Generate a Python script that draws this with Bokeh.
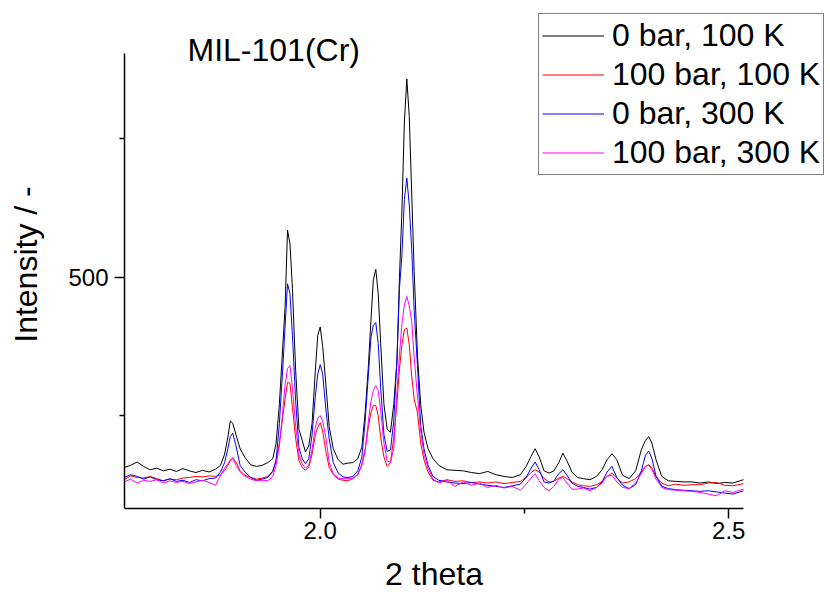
import math
from bokeh.plotting import figure
from bokeh.models import Range1d, FixedTicker, Legend, LegendItem, Label, PrintfTickFormatter
from bokeh.embed import file_html
from bokeh.resources import INLINE

two_theta = [
    1.760, 1.768, 1.776, 1.784, 1.792, 1.800, 1.808, 1.816, 1.824, 1.832, 1.840, 1.848, 1.856, 1.864, 1.872,
    1.878, 1.883, 1.887, 1.890, 1.893, 1.897, 1.902, 1.908, 1.915, 1.922, 1.929, 1.936, 1.942,
    1.946, 1.950, 1.954, 1.957, 1.960, 1.963, 1.966, 1.970, 1.974, 1.978, 1.982, 1.986, 1.990, 1.994, 1.997,
    2.000, 2.003, 2.007, 2.011, 2.016, 2.022, 2.028, 2.034, 2.040, 2.046, 2.051, 2.055, 2.059, 2.062, 2.065,
    2.068, 2.071, 2.074, 2.078, 2.082, 2.086, 2.090, 2.094, 2.097, 2.100, 2.103, 2.106, 2.109, 2.112, 2.115,
    2.119, 2.123, 2.127, 2.132, 2.138,
    2.145, 2.155, 2.165, 2.175, 2.185, 2.195, 2.205, 2.215, 2.225, 2.235, 2.245,
    2.252, 2.258, 2.263, 2.268, 2.274, 2.280, 2.286, 2.292, 2.297, 2.302, 2.308, 2.315, 2.322, 2.330, 2.338,
    2.345, 2.351, 2.357, 2.363, 2.370, 2.378, 2.386, 2.393, 2.398, 2.402, 2.406, 2.411, 2.418, 2.426,
    2.435, 2.445, 2.455, 2.465, 2.475, 2.485, 2.495, 2.505, 2.518,
]

i_0bar_100K = [
    156, 160, 166, 158, 152, 155, 150, 153, 149, 154, 150, 147, 151, 148, 153,
    160, 180, 211, 240, 236, 215, 190, 174, 161, 158, 160, 165, 172,
    200, 270, 370, 445, 585, 560, 480, 330, 225, 205, 184, 195, 235, 330, 395,
    410, 375, 305, 230, 190, 170, 162, 164, 165, 172, 193, 255, 340, 420, 495,
    514, 470, 380, 270, 225, 220, 270, 350, 500, 620, 780, 858, 790, 650, 510,
    360, 270, 220, 190, 172,
    160, 152, 151, 150, 147, 145, 149, 143, 140, 138, 143,
    158, 176, 190, 175, 150, 146, 150, 165, 182, 168, 148, 138, 136, 134, 140,
    152, 170, 181, 170, 142, 136, 150, 188, 205, 212, 200, 170, 140, 132,
    131, 130, 130, 128, 130, 127, 129, 128, 134,
]

i_100bar_100K = [
    134, 141, 138, 137, 140, 136, 132, 135, 134, 137, 138, 140, 139, 141, 140,
    143, 150, 160, 168, 174, 166, 150, 142, 138, 135, 137, 140, 148,
    170, 200, 245, 280, 310, 308, 265, 208, 168, 156, 151, 157, 180, 215, 228,
    237, 222, 185, 156, 143, 135, 133, 132, 136, 143, 162, 190, 230, 255, 268,
    268, 250, 210, 175, 158, 165, 210, 275, 335, 378, 405, 408, 378, 320, 280,
    255, 200, 170, 148, 133,
    130, 134, 131, 132, 129, 130, 128, 130, 127, 129, 131,
    138, 147, 152, 148, 136, 130, 131, 137, 140, 136, 130, 125, 123, 122, 125,
    131, 140, 146, 137, 128, 130, 136, 148, 158, 161, 155, 140, 128, 123,
    126, 124, 125, 125, 128, 129, 124, 123, 127,
]

i_0bar_300K = [
    138, 143, 140, 135, 139, 134, 132, 136, 131, 133, 129, 134, 132, 136, 137,
    148, 165, 190, 212, 218, 195, 160, 148, 138, 133, 135, 138, 150,
    168, 235, 330, 410, 488, 470, 395, 275, 192, 172, 163, 172, 215, 285, 325,
    342, 325, 260, 208, 165, 146, 139, 138, 140, 150, 175, 240, 325, 390, 413,
    418, 380, 300, 215, 185, 188, 240, 355, 480, 540, 640, 679, 630, 550, 440,
    340, 232, 190, 160, 140,
    133, 130, 128, 127, 129, 126, 124, 122, 120, 123, 126,
    138, 155, 166, 152, 130, 128, 132, 145, 152, 142, 128, 122, 120, 117, 120,
    130, 148, 158, 138, 124, 118, 125, 150, 178, 186, 172, 140, 122, 118,
    116, 115, 114, 113, 114, 112, 110, 108, 114,
]

i_100bar_300K = [
    130, 135, 128, 133, 131, 134, 128, 132, 129, 131, 127, 130, 133, 129, 124,
    142, 155, 163, 170, 172, 160, 148, 140, 135, 132, 133, 132, 140,
    160, 195, 255, 305, 335, 340, 300, 230, 180, 162, 155, 160, 188, 228, 245,
    250, 240, 210, 165, 145, 137, 136, 136, 137, 143, 160, 185, 240, 275, 295,
    304, 295, 260, 200, 168, 165, 190, 295, 360, 416, 450, 465, 448, 420, 355,
    285, 222, 180, 155, 135,
    128, 133, 122, 130, 124, 128, 120, 124, 119, 122, 115,
    126, 137, 145, 132, 120, 114, 122, 135, 138, 128, 117, 117, 119, 114, 120,
    128, 140, 142, 130, 120, 118, 128, 145, 158, 160, 152, 135, 120, 116,
    115, 114, 113, 111, 108, 105, 114, 111, 117,
]

series_labels = ["0 bar, 100 K", "100 bar, 100 K", "0 bar, 300 K", "100 bar, 300 K"]
series_colors = ["#000000", "#ff0000", "#0000ff", "#ff00ff"]
series_values = [i_0bar_100K, i_100bar_100K, i_0bar_300K, i_100bar_300K]

x_major = [2.0, 2.5]
x_minor = [2.25]
y_major = [500]
y_minor = [250, 750]

x_axis_span = (1.7605, 2.518)
y_axis_span = (82, 904)

FONT = "Liberation Sans"
W, H = 830, 592

# The frame fills the whole page; the axes are pinned at the data-area edges.
p = figure(
    width=W, height=H,
    output_backend="svg", toolbar_location=None,
    x_range=Range1d(1.60876, 2.62447), y_range=Range1d(-69.75, 999.75),
    min_border=0, min_border_left=0, min_border_right=0, min_border_top=0, min_border_bottom=0,
)
p.outline_line_color = None
p.xgrid.visible = False
p.ygrid.visible = False
p.background_fill_color = "white"
p.border_fill_color = "white"

p.xaxis.ticker = FixedTicker(ticks=x_major, minor_ticks=x_minor)
p.yaxis.ticker = FixedTicker(ticks=y_major, minor_ticks=y_minor)
p.xaxis.formatter = PrintfTickFormatter(format="%.1f")
p.xaxis.fixed_location = y_axis_span[0]
p.yaxis.fixed_location = x_axis_span[0]
p.xaxis.bounds = x_axis_span
p.yaxis.bounds = y_axis_span

for ax in (p.xaxis[0], p.yaxis[0]):
    ax.axis_line_width = 1.5
    ax.axis_line_color = "black"
    ax.major_tick_line_width = 1.5
    ax.minor_tick_line_width = 1.5
    ax.major_tick_line_color = "black"
    ax.minor_tick_line_color = "black"
    ax.major_tick_in = 0
    ax.major_tick_out = 10
    ax.minor_tick_in = 0
    ax.minor_tick_out = 5
    ax.major_label_text_font = FONT
    ax.major_label_text_font_size = "24px"
    ax.major_label_text_color = "black"

p.xaxis.major_label_standoff = 3
p.yaxis.major_label_standoff = 6

items = []
for lab, col, vals in zip(series_labels, series_colors, series_values):
    r = p.line(two_theta, vals, line_color=col, line_width=1)
    items.append(LegendItem(label=lab, renderers=[r]))

legend = Legend(
    items=items,
    location=(538, 417),
    label_text_font=FONT,
    label_text_font_size="32px",
    label_text_color="black",
    glyph_width=62,
    glyph_height=37,
    label_height=37,
    label_standoff=8,
    spacing=2,
    padding=3,
    margin=0,
    border_line_color="black",
    border_line_width=1,
    background_fill_color="white",
    background_fill_alpha=1.0,
)
p.add_layout(legend, "center")

def add_text(text, x, y, align="left", angle=0.0):
    p.add_layout(Label(
        x=x, y=y, x_units="screen", y_units="screen", text=text,
        text_font=FONT, text_font_size="32px", text_color="black",
        text_baseline="middle", text_align=align, angle=angle,
    ))

add_text("MIL-101(Cr)", 187, H - 49)
add_text("2 theta", 433.5, H - 573, align="center")
add_text("Intensity / -", 25, H - 264, align="center", angle=math.pi / 2)

open("out.html", "w").write(file_html(p, INLINE))
